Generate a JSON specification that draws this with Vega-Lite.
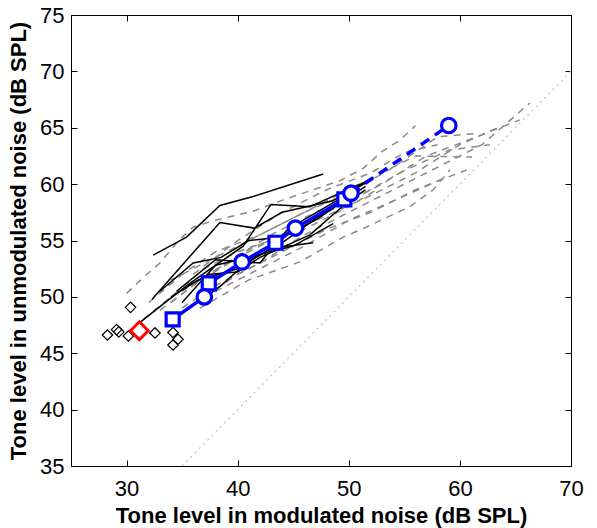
{
  "$schema": "https://vega.github.io/schema/vega-lite/v6.json",
  "width": 500,
  "height": 451,
  "autosize": {"type": "none"},
  "padding": {"left": 71, "top": 15, "right": 26, "bottom": 62},
  "background": "white",
  "data": {"values": [
    {"k": "diag", "g": "d", "x": 35, "y": 35},
    {"k": "diag", "g": "d", "x": 70, "y": 70},

    {"k": "gray", "g": "G1", "x": 30.0, "y": 50.3},
    {"k": "gray", "g": "G1", "x": 31.7, "y": 51.9},
    {"k": "gray", "g": "G1", "x": 33.0, "y": 53.0},
    {"k": "gray", "g": "G1", "x": 34.7, "y": 55.0},
    {"k": "gray", "g": "G1", "x": 36.0, "y": 56.2},
    {"k": "gray", "g": "G1", "x": 38.0, "y": 56.8},
    {"k": "gray", "g": "G1", "x": 41.4, "y": 57.6},
    {"k": "gray", "g": "G1", "x": 44.1, "y": 58.6},
    {"k": "gray", "g": "G1", "x": 46.8, "y": 59.5},
    {"k": "gray", "g": "G1", "x": 49.2, "y": 60.3},
    {"k": "gray", "g": "G1", "x": 51.3, "y": 61.4},
    {"k": "gray", "g": "G1", "x": 53.0, "y": 62.9},
    {"k": "gray", "g": "G1", "x": 54.6, "y": 63.9},
    {"k": "gray", "g": "G1", "x": 56.0, "y": 65.2},

    {"k": "gray", "g": "G2", "x": 32.0, "y": 49.5},
    {"k": "gray", "g": "G2", "x": 35.0, "y": 52.0},
    {"k": "gray", "g": "G2", "x": 38.0, "y": 54.0},
    {"k": "gray", "g": "G2", "x": 42.0, "y": 55.5},
    {"k": "gray", "g": "G2", "x": 46.0, "y": 57.5},
    {"k": "gray", "g": "G2", "x": 50.0, "y": 59.2},
    {"k": "gray", "g": "G2", "x": 54.0, "y": 61.5},
    {"k": "gray", "g": "G2", "x": 58.0, "y": 64.2},
    {"k": "gray", "g": "G2", "x": 61.5, "y": 64.5},

    {"k": "gray", "g": "G3", "x": 33.0, "y": 48.8},
    {"k": "gray", "g": "G3", "x": 36.0, "y": 51.0},
    {"k": "gray", "g": "G3", "x": 40.0, "y": 53.5},
    {"k": "gray", "g": "G3", "x": 44.0, "y": 55.5},
    {"k": "gray", "g": "G3", "x": 48.0, "y": 57.2},
    {"k": "gray", "g": "G3", "x": 52.0, "y": 59.0},
    {"k": "gray", "g": "G3", "x": 56.0, "y": 61.0},
    {"k": "gray", "g": "G3", "x": 60.0, "y": 63.5},
    {"k": "gray", "g": "G3", "x": 63.4, "y": 65.0},

    {"k": "gray", "g": "G4", "x": 34.0, "y": 49.5},
    {"k": "gray", "g": "G4", "x": 37.0, "y": 51.8},
    {"k": "gray", "g": "G4", "x": 41.0, "y": 54.2},
    {"k": "gray", "g": "G4", "x": 45.0, "y": 56.0},
    {"k": "gray", "g": "G4", "x": 49.0, "y": 58.0},
    {"k": "gray", "g": "G4", "x": 53.0, "y": 60.0},
    {"k": "gray", "g": "G4", "x": 57.0, "y": 62.5},
    {"k": "gray", "g": "G4", "x": 61.0, "y": 64.0},
    {"k": "gray", "g": "G4", "x": 65.4, "y": 65.7},

    {"k": "gray", "g": "G5", "x": 35.0, "y": 49.0},
    {"k": "gray", "g": "G5", "x": 38.0, "y": 51.0},
    {"k": "gray", "g": "G5", "x": 42.0, "y": 53.0},
    {"k": "gray", "g": "G5", "x": 46.0, "y": 55.5},
    {"k": "gray", "g": "G5", "x": 50.0, "y": 57.5},
    {"k": "gray", "g": "G5", "x": 54.0, "y": 59.5},
    {"k": "gray", "g": "G5", "x": 58.0, "y": 61.5},
    {"k": "gray", "g": "G5", "x": 62.0, "y": 63.5},
    {"k": "gray", "g": "G5", "x": 66.3, "y": 67.2},

    {"k": "gray", "g": "G6", "x": 36.6, "y": 49.0},
    {"k": "gray", "g": "G6", "x": 41.0, "y": 51.5},
    {"k": "gray", "g": "G6", "x": 45.6, "y": 53.1},
    {"k": "gray", "g": "G6", "x": 49.5, "y": 55.3},
    {"k": "gray", "g": "G6", "x": 51.6, "y": 56.2},
    {"k": "gray", "g": "G6", "x": 55.5, "y": 58.0},
    {"k": "gray", "g": "G6", "x": 57.6, "y": 59.5},
    {"k": "gray", "g": "G6", "x": 59.1, "y": 61.25},

    {"k": "gray", "g": "G7", "x": 37.0, "y": 50.0},
    {"k": "gray", "g": "G7", "x": 40.0, "y": 52.0},
    {"k": "gray", "g": "G7", "x": 44.0, "y": 54.0},
    {"k": "gray", "g": "G7", "x": 48.0, "y": 56.0},
    {"k": "gray", "g": "G7", "x": 52.0, "y": 57.5},
    {"k": "gray", "g": "G7", "x": 56.0, "y": 59.5},
    {"k": "gray", "g": "G7", "x": 60.6, "y": 61.25},

    {"k": "gray", "g": "G8", "x": 38.0, "y": 50.5},
    {"k": "gray", "g": "G8", "x": 42.0, "y": 52.5},
    {"k": "gray", "g": "G8", "x": 46.0, "y": 54.5},
    {"k": "gray", "g": "G8", "x": 50.0, "y": 56.8},
    {"k": "gray", "g": "G8", "x": 54.0, "y": 58.5},
    {"k": "gray", "g": "G8", "x": 58.5, "y": 60.5},

    {"k": "gray", "g": "G9", "x": 35.0, "y": 50.5},
    {"k": "gray", "g": "G9", "x": 39.0, "y": 53.0},
    {"k": "gray", "g": "G9", "x": 43.0, "y": 55.5},
    {"k": "gray", "g": "G9", "x": 47.0, "y": 57.5},
    {"k": "gray", "g": "G9", "x": 51.0, "y": 59.0},
    {"k": "gray", "g": "G9", "x": 55.0, "y": 61.2},
    {"k": "gray", "g": "G9", "x": 59.0, "y": 63.0},
    {"k": "gray", "g": "G9", "x": 62.7, "y": 63.5},

    {"k": "gray", "g": "G10", "x": 34.0, "y": 51.5},
    {"k": "gray", "g": "G10", "x": 37.0, "y": 53.0},
    {"k": "gray", "g": "G10", "x": 40.0, "y": 54.5},
    {"k": "gray", "g": "G10", "x": 44.0, "y": 56.5},
    {"k": "gray", "g": "G10", "x": 48.0, "y": 58.5},
    {"k": "gray", "g": "G10", "x": 52.0, "y": 60.5},
    {"k": "gray", "g": "G10", "x": 56.0, "y": 62.5},
    {"k": "gray", "g": "G10", "x": 61.1, "y": 62.4},

    {"k": "gray", "g": "G11", "x": 31.5, "y": 48.0},
    {"k": "gray", "g": "G11", "x": 34.0, "y": 50.0},
    {"k": "gray", "g": "G11", "x": 37.0, "y": 52.5},
    {"k": "gray", "g": "G11", "x": 40.0, "y": 54.0},
    {"k": "gray", "g": "G11", "x": 43.0, "y": 55.0},
    {"k": "gray", "g": "G11", "x": 46.0, "y": 56.0},
    {"k": "gray", "g": "G11", "x": 50.0, "y": 58.0},
    {"k": "gray", "g": "G11", "x": 52.5, "y": 59.5},

    {"k": "gray", "g": "G12", "x": 36.0, "y": 52.0},
    {"k": "gray", "g": "G12", "x": 40.0, "y": 55.0},
    {"k": "gray", "g": "G12", "x": 44.0, "y": 57.5},
    {"k": "gray", "g": "G12", "x": 48.0, "y": 59.5},
    {"k": "gray", "g": "G12", "x": 52.0, "y": 61.0},
    {"k": "gray", "g": "G12", "x": 55.0, "y": 62.8},
    {"k": "gray", "g": "G12", "x": 58.0, "y": 63.5},

    {"k": "black", "g": "B1", "x": 32.4, "y": 53.7},
    {"k": "black", "g": "B1", "x": 35.4, "y": 55.3},
    {"k": "black", "g": "B1", "x": 38.4, "y": 58.1},
    {"k": "black", "g": "B1", "x": 41.4, "y": 58.9},
    {"k": "black", "g": "B1", "x": 47.7, "y": 60.9},

    {"k": "black", "g": "B2", "x": 32.3, "y": 49.8},
    {"k": "black", "g": "B2", "x": 38.4, "y": 56.6},
    {"k": "black", "g": "B2", "x": 41.5, "y": 56.1},
    {"k": "black", "g": "B2", "x": 44.0, "y": 57.5},
    {"k": "black", "g": "B2", "x": 48.5, "y": 58.5},
    {"k": "black", "g": "B2", "x": 52.0, "y": 60.5},

    {"k": "black", "g": "B3", "x": 33.0, "y": 50.5},
    {"k": "black", "g": "B3", "x": 36.0, "y": 53.0},
    {"k": "black", "g": "B3", "x": 38.5, "y": 53.5},
    {"k": "black", "g": "B3", "x": 41.0, "y": 55.0},
    {"k": "black", "g": "B3", "x": 44.0, "y": 55.3},
    {"k": "black", "g": "B3", "x": 47.0, "y": 56.8},
    {"k": "black", "g": "B3", "x": 51.5, "y": 59.8},

    {"k": "black", "g": "B4", "x": 34.0, "y": 50.0},
    {"k": "black", "g": "B4", "x": 36.5, "y": 51.5},
    {"k": "black", "g": "B4", "x": 40.0, "y": 52.5},
    {"k": "black", "g": "B4", "x": 43.0, "y": 54.3},
    {"k": "black", "g": "B4", "x": 46.8, "y": 54.8},

    {"k": "black", "g": "B5", "x": 35.0, "y": 49.5},
    {"k": "black", "g": "B5", "x": 38.0, "y": 52.8},
    {"k": "black", "g": "B5", "x": 40.5, "y": 54.5},
    {"k": "black", "g": "B5", "x": 43.0, "y": 58.2},
    {"k": "black", "g": "B5", "x": 46.5, "y": 58.0},
    {"k": "black", "g": "B5", "x": 51.0, "y": 60.0},

    {"k": "black", "g": "B6", "x": 31.3, "y": 47.8},
    {"k": "black", "g": "B6", "x": 33.6, "y": 49.6},
    {"k": "black", "g": "B6", "x": 35.7, "y": 51.2},
    {"k": "black", "g": "B6", "x": 38.0, "y": 52.8},
    {"k": "black", "g": "B6", "x": 41.0, "y": 53.5},
    {"k": "black", "g": "B6", "x": 45.0, "y": 54.5},
    {"k": "black", "g": "B6", "x": 48.6, "y": 56.5},

    {"k": "black", "g": "B7", "x": 35.5, "y": 51.0},
    {"k": "black", "g": "B7", "x": 37.5, "y": 52.0},
    {"k": "black", "g": "B7", "x": 40.0, "y": 52.2},
    {"k": "black", "g": "B7", "x": 42.0, "y": 53.5},
    {"k": "black", "g": "B7", "x": 46.5, "y": 55.5},
    {"k": "black", "g": "B7", "x": 50.0, "y": 58.5},
    {"k": "black", "g": "B7", "x": 51.5, "y": 59.5},

    {"k": "black", "g": "B8", "x": 36.5, "y": 49.5},
    {"k": "black", "g": "B8", "x": 38.5, "y": 51.0},
    {"k": "black", "g": "B8", "x": 41.0, "y": 53.2},
    {"k": "black", "g": "B8", "x": 44.0, "y": 54.8},
    {"k": "black", "g": "B8", "x": 47.5, "y": 57.3},
    {"k": "black", "g": "B8", "x": 50.5, "y": 59.2},

    {"k": "black", "g": "B9", "x": 34.5, "y": 50.5},
    {"k": "black", "g": "B9", "x": 38.0, "y": 53.3},
    {"k": "black", "g": "B9", "x": 42.0, "y": 53.0},
    {"k": "black", "g": "B9", "x": 44.5, "y": 56.0},
    {"k": "black", "g": "B9", "x": 48.5, "y": 58.3},
    {"k": "black", "g": "B9", "x": 51.8, "y": 60.3},

    {"k": "bd", "g": "bd", "x": 30.36, "y": 49.07},
    {"k": "bd", "g": "bd", "x": 28.28, "y": 46.62},
    {"k": "bd", "g": "bd", "x": 29.1, "y": 47.1},
    {"k": "bd", "g": "bd", "x": 29.3, "y": 46.9},
    {"k": "bd", "g": "bd", "x": 30.16, "y": 46.53},
    {"k": "bd", "g": "bd", "x": 32.56, "y": 46.8},
    {"k": "bd", "g": "bd", "x": 34.18, "y": 46.84},
    {"k": "bd", "g": "bd", "x": 34.63, "y": 46.24},
    {"k": "bd", "g": "bd", "x": 34.18, "y": 45.73},

    {"k": "rd", "g": "rd", "x": 31.15, "y": 47.0},

    {"k": "blue", "g": "blue", "m": "sq", "x": 34.15, "y": 48.0},
    {"k": "blue", "g": "blue", "m": "circ", "x": 37.0, "y": 50.0},
    {"k": "blue", "g": "blue", "m": "sq", "x": 37.4, "y": 51.2},
    {"k": "blue", "g": "blue", "m": "circ", "x": 40.4, "y": 53.1},
    {"k": "blue", "g": "blue", "m": "sq", "x": 43.4, "y": 54.8},
    {"k": "blue", "g": "blue", "m": "circ", "x": 45.2, "y": 56.1},
    {"k": "blue", "g": "blue", "m": "sq", "x": 49.6, "y": 58.65},
    {"k": "blue", "g": "blue", "m": "circ", "x": 50.2, "y": 59.2},
    {"k": "bluedash", "g": "bdash", "m": "none", "x": 50.2, "y": 59.2},
    {"k": "bluedash", "g": "bdash", "m": "circ", "x": 59.0, "y": 65.2}
  ]},
  "encoding": {
    "x": {"field": "x", "type": "quantitative", "scale": {"domain": [25, 70], "nice": false, "zero": false}},
    "y": {"field": "y", "type": "quantitative", "scale": {"domain": [35, 75], "nice": false, "zero": false}}
  },
  "layer": [
    {
      "transform": [{"filter": "datum.k == 'diag'"}],
      "mark": {"type": "line", "color": "#c4c4c4", "strokeWidth": 1.3, "strokeDash": [2, 4]},
      "encoding": {
        "x": {"field": "x", "type": "quantitative", "axis": {"orient": "bottom", "values": [30, 40, 50, 60, 70], "title": "Tone level in modulated noise (dB SPL)", "titleY": 56, "titleBaseline": "alphabetic"}},
        "y": {"field": "y", "type": "quantitative", "axis": {"orient": "left", "values": [35, 40, 45, 50, 55, 60, 65, 70, 75], "title": "Tone level in unmodulated noise (dB SPL)", "titleX": -46, "titleY": 225.5, "titleBaseline": "alphabetic"}}
      }
    },
    {
      "transform": [{"filter": "datum.k == 'diag'"}],
      "mark": {"type": "line", "opacity": 0},
      "encoding": {
        "x": {"field": "x", "type": "quantitative", "axis": {"orient": "top", "values": [30, 40, 50, 60, 70], "labels": false, "title": null}},
        "y": {"field": "y", "type": "quantitative", "axis": {"orient": "right", "values": [35, 40, 45, 50, 55, 60, 65, 70, 75], "labels": false, "title": null}}
      }
    },
    {
      "transform": [{"filter": "datum.k == 'gray'"}],
      "mark": {"type": "line", "color": "#8a8a8a", "strokeWidth": 1.5, "strokeDash": [7, 6]},
      "encoding": {
        "x": {"field": "x", "type": "quantitative", "axis": null},
        "y": {"field": "y", "type": "quantitative", "axis": null},
        "detail": {"field": "g"}
      }
    },
    {
      "transform": [{"filter": "datum.k == 'black'"}],
      "mark": {"type": "line", "color": "black", "strokeWidth": 1.5},
      "encoding": {
        "x": {"field": "x", "type": "quantitative", "axis": null},
        "y": {"field": "y", "type": "quantitative", "axis": null},
        "detail": {"field": "g"}
      }
    },
    {
      "transform": [{"filter": "datum.k == 'bd'"}],
      "mark": {"type": "point", "shape": "diamond", "size": 110, "color": "black", "strokeWidth": 1.2, "filled": false, "opacity": 1},
      "encoding": {
        "x": {"field": "x", "type": "quantitative", "axis": null},
        "y": {"field": "y", "type": "quantitative", "axis": null}
      }
    },
    {
      "transform": [{"filter": "datum.k == 'rd'"}],
      "mark": {"type": "point", "shape": "diamond", "size": 320, "color": "#ff0000", "strokeWidth": 3, "filled": false, "opacity": 1},
      "encoding": {
        "x": {"field": "x", "type": "quantitative", "axis": null},
        "y": {"field": "y", "type": "quantitative", "axis": null}
      }
    },
    {
      "transform": [{"filter": "datum.k == 'blue'"}],
      "mark": {"type": "line", "color": "#0000ff", "strokeWidth": 3.5},
      "encoding": {
        "x": {"field": "x", "type": "quantitative", "axis": null},
        "y": {"field": "y", "type": "quantitative", "axis": null}
      }
    },
    {
      "transform": [{"filter": "datum.k == 'bluedash'"}],
      "mark": {"type": "line", "color": "#0000ff", "strokeWidth": 3.5, "strokeDash": [10, 7]},
      "encoding": {
        "x": {"field": "x", "type": "quantitative", "axis": null},
        "y": {"field": "y", "type": "quantitative", "axis": null}
      }
    },
    {
      "transform": [{"filter": "datum.m == 'sq'"}],
      "mark": {"type": "point", "shape": "square", "size": 170, "stroke": "#0000ff", "fill": "white", "strokeWidth": 3.2, "filled": true, "opacity": 1},
      "encoding": {
        "x": {"field": "x", "type": "quantitative", "axis": null},
        "y": {"field": "y", "type": "quantitative", "axis": null}
      }
    },
    {
      "transform": [{"filter": "datum.m == 'circ'"}],
      "mark": {"type": "point", "shape": "circle", "size": 210, "stroke": "#0000ff", "fill": "white", "strokeWidth": 3.2, "filled": true, "opacity": 1},
      "encoding": {
        "x": {"field": "x", "type": "quantitative", "axis": null},
        "y": {"field": "y", "type": "quantitative", "axis": null}
      }
    }
  ],
  "resolve": {"axis": {"x": "independent", "y": "independent"}},
  "config": {
    "view": {"stroke": "black", "strokeWidth": 1},
    "axis": {
      "grid": false,
      "domainColor": "black",
      "tickColor": "black",
      "labelColor": "black",
      "titleColor": "black",
      "labelFont": "Liberation Sans",
      "titleFont": "Liberation Sans",
      "labelFontSize": 22,
      "titleFontSize": 22,
      "titleFontWeight": "bold",
      "tickSize": -6,
      "labelPadding": 18,
      "labelFlush": false,
      "labelOverlap": false
    },
    "axisLeft": {"labelPadding": 13}
  }
}
